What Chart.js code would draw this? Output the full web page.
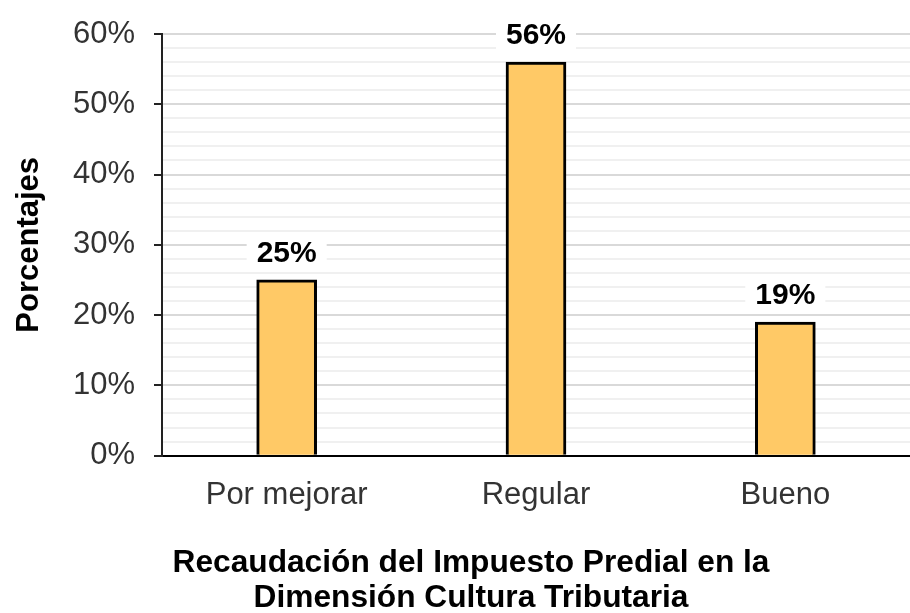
<!DOCTYPE html>
<html>
<head>
<meta charset="utf-8">
<script src="https://cdn.jsdelivr.net/npm/chart.js@4/dist/chart.umd.min.js"></script>
<style>
  body { margin: 0; background: #fff; overflow: hidden; }
  canvas { display: block; }
</style>
</head>
<body>
<canvas id="chart_recaudacion" width="910" height="613"></canvas>
<script>
var categorias = ['Por mejorar', 'Regular', 'Bueno'];
var porcentajes = [25, 56, 19];
var titulo_x = ['Recaudación del Impuesto Predial en la', 'Dimensión Cultura Tributaria'];
var titulo_y = 'Porcentajes';

var FONT = '"Liberation Sans", Arial, sans-serif';

// etiquetas de valor encima de cada barra, con fondo blanco
var etiquetas_barras = {
  id: 'etiquetas_barras',
  afterDatasetsDraw: function (chart) {
    var ctx = chart.ctx;
    var meta = chart.getDatasetMeta(0);
    ctx.save();
    ctx.font = 'bold 30px ' + FONT;
    ctx.textAlign = 'center';
    ctx.textBaseline = 'middle';
    meta.data.forEach(function (bar, i) {
      var txt = porcentajes[i] + '%';
      var w = ctx.measureText(txt).width;
      var y = bar.y - 27;
      ctx.fillStyle = '#fff';
      ctx.fillRect(bar.x - w / 2 - 10, y - 17, w + 20, 34);
      ctx.fillStyle = '#000';
      ctx.fillText(txt, bar.x, y + 1);
    });
    ctx.restore();
  }
};

var chart_recaudacion = document.getElementById('chart_recaudacion').getContext('2d');

var mychart = new Chart(chart_recaudacion, {
  type: 'bar',
  data: {
    labels: categorias,
    datasets: [{
      data: porcentajes,
      backgroundColor: '#FFC966',
      borderColor: '#000',
      borderWidth: 3,
      barThickness: 60
    }]
  },
  options: {
    responsive: false,
    animation: false,
    layout: { padding: { top: 34, right: 0, bottom: 0, left: 32 } },
    plugins: {
      legend: { display: false },
      tooltip: { enabled: false },
      title: {
        display: true,
        position: 'bottom',
        text: titulo_x,
        color: '#000',
        font: { family: FONT, size: 31.7, weight: 'bold', lineHeight: 1.11 },
        padding: { top: 0, bottom: -3 }
      }
    },
    scales: {
      x: {
        grid: { display: false },
        border: { color: '#000', width: 2 },
        ticks: {
          color: '#333',
          padding: 13,
          font: { family: FONT, size: 31 }
        },
        afterFit: function (s) { s.height = 90; }
      },
      y: {
        min: 0,
        max: 60,
        border: { color: '#222', width: 2 },
        grid: {
          lineWidth: 2,
          tickLength: 8,
          color: function (c) {
            var v = c.tick.value;
            if (v === 0) return '#000';
            return v % 10 === 0 ? '#d9d9d9' : '#f0f0f0';
          },
          tickColor: function (c) {
            return c.tick.value % 10 === 0 ? '#222' : 'rgba(0,0,0,0)';
          }
        },
        ticks: {
          stepSize: 2,
          autoSkip: false,
          color: '#333',
          padding: 19,
          font: { family: FONT, size: 31 },
          callback: function (v) { return v % 10 === 0 ? v + '%' : ''; }
        },
        title: {
          display: true,
          text: titulo_y,
          color: '#000',
          font: { family: FONT, size: 31, weight: 'bold', lineHeight: 1.1 },
          padding: { top: -20, bottom: 0 }
        },
        afterFit: function (s) {
          s.width = 130;
          s.paddingTop = 0;
          s.paddingBottom = 0;
        }
      }
    }
  },
  plugins: [etiquetas_barras]
});
</script>
</body>
</html>
